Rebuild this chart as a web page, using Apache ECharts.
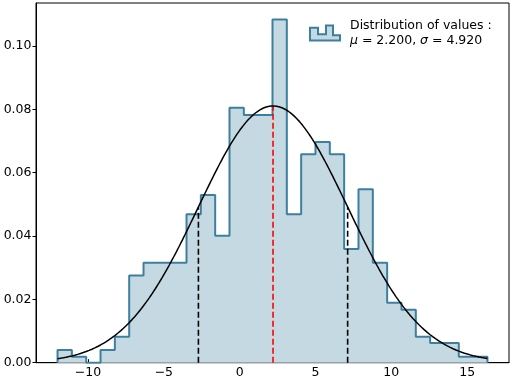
<!DOCTYPE html>
<html>
<head>
<meta charset="utf-8">
<script src="https://cdn.jsdelivr.net/npm/echarts@6/dist/echarts.min.js"></script>
<style>html,body{margin:0;padding:0;background:#fff;}#c{width:512px;height:384px;}</style>
</head>
<body>
<div id="c"></div>
<script>
// Bin edges
const binEdges = [-12.01, -11.065, -10.12, -9.175, -8.23, -7.285, -6.34, -5.395, -4.45, -3.505,
  -2.56, -1.615, -0.67, 0.275, 1.22, 2.165, 3.11, 4.055, 5.0, 5.945,
  6.89, 7.835, 8.78, 9.725, 10.67, 11.615, 12.56, 13.505, 14.45, 15.395, 16.34];
// Density per bin
const binHeights = [0.0040, 0.0019, 0.0, 0.0040, 0.0082, 0.0275, 0.0316, 0.0316, 0.0316, 0.0469,
  0.0530, 0.0401, 0.0805, 0.0782, 0.0782, 0.1084, 0.0469, 0.0658, 0.0697, 0.0658,
  0.0359, 0.0548, 0.0316, 0.0189, 0.0167, 0.0082, 0.0062, 0.0062, 0.0019, 0.0019];
const mu = 2.2;
const sigma = 4.92;
const xTicks = [-10, -5, 0, 5, 10, 15];
const yTicks = [0, 0.02, 0.04, 0.06, 0.08, 0.10];

const EDGE = '#3d7f9e';
const FILL = '#c4d9e2';
const FONT = 'DejaVu Sans';
const FS = 12.5;

function pdf(x) {
  return Math.exp(-0.5 * Math.pow((x - mu) / sigma, 2)) / (sigma * Math.sqrt(2 * Math.PI));
}

const histData = [[binEdges[0], 0]];
for (let i = 0; i < binHeights.length; i++) histData.push([binEdges[i], binHeights[i]]);
histData.push([binEdges[binEdges.length - 1], binHeights[binHeights.length - 1]]);
histData.push([binEdges[binEdges.length - 1], 0]);

const curveData = [];
const x0 = binEdges[0], x1 = binEdges[binEdges.length - 1];
const N = 300;
for (let i = 0; i <= N; i++) {
  const x = x0 + (x1 - x0) * i / N;
  curveData.push([x, pdf(x)]);
}

function vline(x, color, z) {
  return {
    type: 'line', data: [[x, 0], [x, pdf(x)]], showSymbol: false, silent: true, z: z,
    lineStyle: { color: color, width: 1.6, type: [6, 3] }, animation: false
  };
}

const chart = echarts.init(document.getElementById('c'), null, { renderer: 'canvas' });
chart.setOption({
  animation: false,
  grid: { left: 36, right: 3, top: 3, bottom: 21.3, show: true, borderColor: '#000', borderWidth: 1, backgroundColor: 'transparent' },
  xAxis: {
    type: 'value', min: -13.43, max: 17.76,
    axisLine: { show: true, onZero: false, lineStyle: { color: '#000', width: 1 } },
    axisTick: { show: true, inside: true, length: 3.5, customValues: xTicks, lineStyle: { color: '#000' } },
    axisLabel: {
      customValues: xTicks, margin: 4, color: '#000', fontFamily: FONT, fontSize: FS,
      formatter: v => (v < 0 ? '\u2212' + Math.abs(v) : String(v))
    },
    splitLine: { show: false }
  },
  yAxis: {
    type: 'value', min: 0, max: 0.1136,
    axisLine: { show: true, onZero: false, lineStyle: { color: '#000', width: 1 } },
    axisTick: { show: true, inside: false, length: 3.5, customValues: yTicks, lineStyle: { color: '#000' } },
    axisLabel: {
      customValues: yTicks, margin: 4.5, color: '#000', fontFamily: FONT, fontSize: FS,
      formatter: v => v.toFixed(2)
    },
    splitLine: { show: false }
  },
  legend: {
    show: true, left: 309, top: 18, padding: 0, orient: 'vertical',
    itemWidth: 30, itemHeight: 15, itemGap: 5,
    data: [{
      name: 'hist',
      icon: 'path://M0,15 L0,2.3 L8,2.3 L8,8.7 L16,8.7 L16,0 L23,0 L23,9.7 L30,9.7 L30,15 Z',
      itemStyle: { color: FILL, borderColor: EDGE, borderWidth: 2 }
    }],
    formatter: () => '{a|Distribution of values :}\n{i|\u03bc}{a| = 2.200, }{i|\u03c3}{a| = 4.920}',
    textStyle: {
      color: '#000', fontFamily: FONT, fontSize: FS, lineHeight: 15, padding: [0, 0, 0, 5],
      rich: {
        a: { color: '#000', fontFamily: FONT, fontSize: FS, lineHeight: 15 },
        i: { color: '#000', fontFamily: FONT, fontSize: FS, fontStyle: 'italic', lineHeight: 15 }
      }
    }
  },
  series: [
    {
      name: 'hist', type: 'line', step: 'end', data: histData, showSymbol: false, z: 1,
      lineStyle: { color: EDGE, width: 2 }, itemStyle: { color: EDGE },
      areaStyle: { color: FILL, opacity: 1, origin: 0 }
    },
    vline(mu - sigma, '#000', 2),
    vline(mu + sigma, '#000', 2),
    vline(mu, '#ff0000', 2),
    {
      name: 'curve', type: 'line', data: curveData, showSymbol: false, z: 3, smooth: false,
      lineStyle: { color: '#000', width: 1.5 }
    }
  ]
});
</script>
</body>
</html>
